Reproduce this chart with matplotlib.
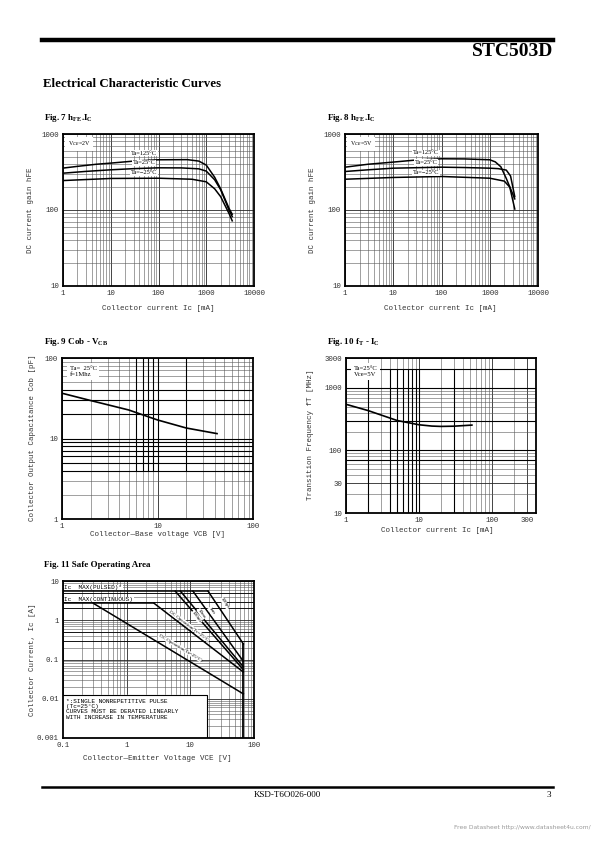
"""STC503D datasheet page 3: electrical characteristic curves."""

import matplotlib
matplotlib.use("Agg")
import matplotlib.pyplot as plt
from matplotlib.ticker import FixedLocator, NullFormatter, LogLocator

plt.rcParams["font.family"] = ["Liberation Mono", "DejaVu Sans Mono"]
plt.rcParams["mathtext.fontset"] = "custom"
plt.rcParams["mathtext.rm"] = "Liberation Serif:bold"
plt.rcParams["mathtext.bf"] = "Liberation Serif:bold"

# ---- Fig. 7  hFE - Ic  (VCE = 2 V) ----
ic7_125 = [1, 2, 5, 10, 30, 100, 400, 700, 1000, 1500, 2000, 3000, 3500]
hfe7_125 = [356, 375, 400, 414, 440, 458, 460, 440, 390, 270, 190, 105, 88]
ic7_25 = [1, 3, 10, 30, 100, 300, 700, 1000, 1500, 2000, 3000, 3500]
hfe7_25 = [305, 322, 338, 350, 359, 358, 348, 325, 250, 185, 100, 82]
ic7_m25 = [1, 10, 100, 500, 1000, 1500, 2000, 3000, 3500]
hfe7_m25 = [244, 260, 262, 254, 235, 190, 150, 90, 72]
temp_labels = ["Ta=125\u00b0C", "Ta=25\u00b0C", "Ta=\u221225\u00b0C"]
lab7_y = [562, 416, 307]

# ---- Fig. 8  hFE - Ic  (VCE = 5 V) ----
ic8_125 = [1, 3, 10, 30, 100, 300, 1000, 1300, 1700, 2200, 3300]
hfe8_125 = [366, 400, 427, 455, 472, 470, 458, 430, 370, 260, 140]
ic8_25 = [1, 3, 10, 100, 300, 1000, 1500, 2200, 2700, 3300]
hfe8_25 = [321, 338, 355, 366, 362, 355, 350, 335, 280, 150]
ic8_m25 = [1, 10, 100, 1000, 2000, 2600, 3300]
hfe8_m25 = [254, 268, 276, 262, 240, 200, 103]
lab8_y = [567, 420, 310]

# ---- Fig. 9  Cob - VCB ----
vcb9 = [1, 2, 5, 10, 20, 42]
cob9 = [36.5, 29.6, 22.6, 17.0, 13.5, 11.5]

# ---- Fig. 10  fT - Ic ----
ic10 = [1, 2, 5, 10, 15, 20, 30, 53]
ft10 = [546, 434, 301, 257, 245, 242, 244, 254]

# ---- Fig. 11  Safe operating area ----
vce_max = 68
ic_pulsed = 5.5
ic_cont = 2.7
soa_pulse_labels = ["100ms", "10ms", "1ms", "100\u03bcs"]
soa_pulse_v = [[5.8, vce_max], [7.0, vce_max], [11.0, vce_max], [19.0, vce_max]]
soa_pulse_i = [[ic_pulsed, 0.055], [ic_pulsed, 0.065], [ic_pulsed, 0.09], [ic_pulsed, 0.25]]
soa_lab_x = [12.5, 15, 21.5, 34.7]
soa_lab_y = [1.2, 1.45, 1.7, 2.7]
dc_tc_v = [2.7, vce_max]
dc_tc_i = [ic_cont, 0.048]
dc_ta_v = [0.3, vce_max]
dc_ta_i = [ic_cont, 0.0133]

W, H = 595, 842
fig = plt.figure(figsize=(W / 100, H / 100), dpi=100)


def px(x, y):
    return x / W, 1 - y / H


def add_axes(x0, y0, x1, y1):
    return fig.add_axes([x0 / W, 1 - y1 / H, (x1 - x0) / W, (y1 - y0) / H])


def style(ax, xlim, ylim, xt, yt):
    ax.set_xscale("log")
    ax.set_yscale("log")
    ax.set_xlim(*xlim)
    ax.set_ylim(*ylim)
    ax.xaxis.set_major_locator(FixedLocator(xt))
    ax.yaxis.set_major_locator(FixedLocator(yt))
    ax.set_xticklabels([f"{v:g}" for v in xt])
    ax.set_yticklabels([f"{v:g}" for v in yt])
    for a in (ax.xaxis, ax.yaxis):
        a.set_minor_locator(LogLocator(base=10, subs=range(2, 10), numticks=20))
        a.set_minor_formatter(NullFormatter())
    ax.tick_params(which="both", length=0, labelsize=5.3, pad=3, colors="0.2")
    ax.grid(which="major", color="0.15", lw=0.6)
    ax.grid(which="minor", color="0.35", lw=0.4)
    for s in ax.spines.values():
        s.set_linewidth(1.3)
        s.set_color("black")


def title(x, y, s):
    fig.text(*px(x, y), s, fontsize=6.5, family="Liberation Serif",
             weight="bold", va="center", ha="left")


def label(x, y, s, rot=0):
    fig.text(*px(x, y), s, fontsize=5.4, rotation=rot, ha="center",
             va="center", color="0.2")


# header / footer
fig.add_artist(plt.Line2D([42 / W, 553 / W], [1 - 40 / H] * 2, color="black", lw=3.2))
fig.text(*px(553, 51), "STC503D", family="Liberation Serif", weight="bold",
         fontsize=14, ha="right", va="center")
fig.text(*px(43, 84), "Electrical Characteristic Curves", family="Liberation Serif",
         weight="bold", fontsize=9.3, ha="left", va="center")
fig.add_artist(plt.Line2D([42 / W, 553 / W], [1 - 787 / H] * 2, color="black", lw=1.8))
fig.text(*px(287, 795), "KSD-T6O026-000", family="Liberation Serif", fontsize=6.5,
         ha="center", va="center")
fig.text(*px(551, 795), "3", family="Liberation Serif", fontsize=6.5,
         ha="right", va="center")
fig.text(*px(591, 828), "Free Datasheet http://www.datasheet4u.com/",
         family="DejaVu Sans", fontsize=4.3, color="0.6", ha="right", va="center")

box = dict(boxstyle="square,pad=0.4", fc="white", ec="none")
tbox = dict(boxstyle="square,pad=0.1", fc="white", ec="none")

# Fig. 7
ax7 = add_axes(63, 134, 254, 286)
style(ax7, (1, 10000), (10, 1000), [1, 10, 100, 1000, 10000], [10, 100, 1000])
for x, y in [(ic7_125, hfe7_125), (ic7_25, hfe7_25), (ic7_m25, hfe7_m25)]:
    ax7.plot(x, y, color="black", lw=1.1)
ax7.text(0.025, 0.965, "V$_{CE}$=2V", transform=ax7.transAxes, fontsize=4.3,
         va="top", bbox=box, family="Liberation Serif")
for y, s in zip(lab7_y, temp_labels):
    ax7.text(50, y, s, fontsize=4.6, ha="center", va="center",
             family="Liberation Serif", bbox=tbox)
title(44, 118, r"Fig. 7 h$_{\rm FE}$.I$_{\rm C}$")
label(30, 210, "DC current gain hFE", 90)
label(158, 309, "Collector current Ic [mA]")

# Fig. 8
ax8 = add_axes(345, 134, 538, 286)
style(ax8, (1, 10000), (10, 1000), [1, 10, 100, 1000, 10000], [10, 100, 1000])
for x, y in [(ic8_125, hfe8_125), (ic8_25, hfe8_25), (ic8_m25, hfe8_m25)]:
    ax8.plot(x, y, color="black", lw=1.1)
ax8.text(0.025, 0.965, "V$_{CE}$=5V", transform=ax8.transAxes, fontsize=4.3,
         va="top", bbox=box, family="Liberation Serif")
for y, s in zip(lab8_y, temp_labels):
    ax8.text(48, y, s, fontsize=4.6, ha="center", va="center",
             family="Liberation Serif", bbox=tbox)
title(327, 118, r"Fig. 8 h$_{\rm FE}$.I$_{\rm C}$")
label(313, 210, "DC current gain hFE", 90)
label(440, 309, "Collector current Ic [mA]")

# Fig. 9
ax9 = add_axes(62, 358, 253, 519)
style(ax9, (1, 100), (1, 100), [1, 10, 100], [1, 10, 100])
ax9.vlines([6, 7, 8, 9, 10, 20], 4, 100, color="black", lw=0.8)
ax9.hlines([4, 5, 6, 7, 8, 9, 10, 20, 30, 40], 1, 100, color="black", lw=0.8)
ax9.plot(vcb9, cob9, color="black", lw=1.2)
ax9.text(0.04, 0.95, "Ta=  25\u00b0C\nf=1Mhz", transform=ax9.transAxes, fontsize=4.8,
         va="top", bbox=box, family="Liberation Serif", linespacing=1.3)
title(44, 342, r"Fig. 9 Cob - V$_{\rm CB}$")
label(33, 438, "Collector Output Capacitance Cob [pF]", 90)
label(158, 534, "Collector\u2014Base voltage VCB [V]")

# Fig. 10
ax10 = add_axes(346, 358, 536, 513)
style(ax10, (1, 400), (10, 3000), [1, 10, 100, 300], [10, 30, 100, 1000, 3000])
ax10.vlines([2, 4, 5, 6, 7, 8, 9, 10, 30], 10, 2000, color="black", lw=0.8)
ax10.hlines([70, 100, 300, 1000, 2000], 1, 400, color="black", lw=0.8)
ax10.plot(ic10, ft10, color="black", lw=1.2)
ax10.text(0.04, 0.95, "Ta=25\u00b0C\nVce=5V", transform=ax10.transAxes, fontsize=4.8,
          va="top", bbox=box, family="Liberation Serif", linespacing=1.3)
title(327, 342, r"Fig. 10 f$_{\rm T}$ - I$_{\rm C}$")
label(310, 435, "Transition Frequency fT [MHz]", 90)
label(437, 531, "Collector current Ic [mA]")

# Fig. 11
ax11 = add_axes(63, 581, 254, 738)
style(ax11, (0.1, 100), (0.001, 10), [0.1, 1, 10, 100], [0.001, 0.01, 0.1, 1, 10])
ax11.hlines([0.3, 0.5, 2, 3, 5], 0.1, 100, color="black", lw=0.6)
ax11.plot([0.1, soa_pulse_v[-1][0]], [ic_pulsed, ic_pulsed], color="black", lw=1.1)
ax11.plot([0.1, dc_tc_v[0]], [ic_cont, ic_cont], color="black", lw=1.1)
ax11.plot(dc_ta_v, dc_ta_i, color="black", lw=1.1)
ax11.plot(dc_tc_v, dc_tc_i, color="black", lw=1.1)
for v, i in zip(soa_pulse_v, soa_pulse_i):
    ax11.plot(v, i, color="black", lw=1.1)
ax11.plot([vce_max, vce_max], [0.001, soa_pulse_i[-1][1]], color="black", lw=1.3)
ax11.text(0.105, ic_pulsed * 1.08, "Ic  MAX(PULSED)*", fontsize=4.3, va="bottom",
          bbox=dict(boxstyle="square,pad=0.05", fc="white", ec="none"))
ax11.text(0.105, ic_cont * 1.08, "Ic  MAX(CONTINUOUS)", fontsize=4.3, va="bottom",
          bbox=dict(boxstyle="square,pad=0.05", fc="white", ec="none"))
lab_kw = dict(fontsize=3.6, ha="center", va="center", rotation_mode="anchor",
              family="Liberation Serif",
              bbox=dict(boxstyle="square,pad=0.05", fc="white", ec="none"))
ax11.text(6.9, 0.2, "DC Operation(Ta=25\u00b0C)", rotation=-31, **lab_kw)
ax11.text(9.6, 0.72, "DC Operation(Tc=25\u00b0C)", rotation=-37, **lab_kw)
for s, xm, ym in zip(soa_pulse_labels, soa_lab_x, soa_lab_y):
    ax11.text(xm, ym, s, rotation=-55, **lab_kw)
ax11.fill_between([0.1, 18], 0.001, 0.0125, color="white", zorder=2)
ax11.plot([0.1, 18, 18], [0.0125, 0.0125, 0.001], color="black", lw=0.8, zorder=3)
ax11.text(0.11, 0.0098, "*:SINGLE NONREPETITIVE PULSE\n(Tc=25\u00b0C)\n"
          "CURVES MUST BE DERATED LINEARLY\nWITH INCREASE IN TEMPERATURE",
          fontsize=4.4, va="top", zorder=4, linespacing=1.05)
title(44, 565, "Fig. 11 Safe Operating Area")
label(32, 660, "Collector Current, Ic [A]", 90)
label(157, 759, "Collector\u2014Emitter Voltage VCE [V]")

fig.savefig("out.png", dpi=100)
